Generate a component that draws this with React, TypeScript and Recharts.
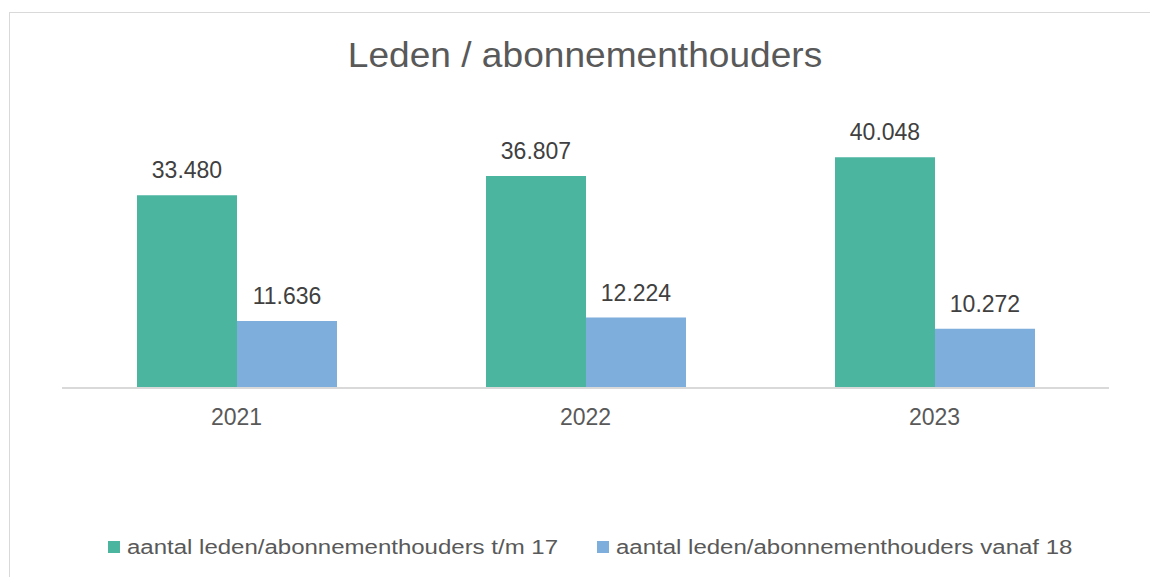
import { Bar, BarChart, LabelList, XAxis, YAxis } from "recharts";

// Leden / abonnementhouders per jaar, split by age group.
const years = ["2021", "2022", "2023"];
const youthMembers = [33480, 36807, 40048]; // t/m 17
const adultMembers = [11636, 12224, 10272]; // vanaf 18
const seriesNames = [
  "aantal leden/abonnementhouders t/m 17",
  "aantal leden/abonnementhouders vanaf 18",
];
const seriesColors = ["#4BB5A0", "#7DAEDC"];

const data = years.map((year, i) => ({
  year,
  youth: youthMembers[i],
  adult: adultMembers[i],
}));

const FONT = "'Liberation Sans', Arial, sans-serif";
// legend entries sit at fixed x offsets, like the Excel original
const legendLeft = [108, 597];

// Dutch thousands separator: 33480 -> "33.480"
const fmt = (v: unknown) =>
  String(v).replace(/\B(?=(\d{3})+(?!\d))/g, ".");

export default function App() {
  return (
    <div
      style={{
        position: "absolute",
        left: 0,
        top: 0,
        width: 1150,
        height: 577,
        overflow: "hidden",
        background: "#ffffff",
        fontFamily: FONT,
      }}
    >
      {/* chart frame, cropped on the right/bottom like the original */}
      <div
        style={{
          position: "absolute",
          left: 9,
          top: 12,
          width: 1160,
          height: 600,
          border: "1px solid #D9D9D9",
          boxSizing: "border-box",
        }}
      />
      <div
        style={{
          position: "absolute",
          left: 0,
          top: 37,
          width: 1170,
          textAlign: "center",
          fontSize: 35,
          lineHeight: "35px",
          color: "#595959",
          transform: "scaleX(1.06)",
          transformOrigin: "585px 0",
        }}
      >
        Leden / abonnementhouders
      </div>
      <BarChart
        width={1150}
        height={577}
        data={data}
        margin={{ top: 100, right: 41, bottom: 149, left: 62 }}
        barGap={0}
        barSize={100}
        style={{ position: "absolute", left: 0, top: 0 }}
      >
        <XAxis
          dataKey="year"
          height={40}
          tickLine={false}
          tickSize={0}
          tickMargin={21}
          axisLine={{ stroke: "#D9D9D9", strokeWidth: 2 }}
          tick={{ fill: "#595959", fontSize: 23, fontFamily: FONT }}
        />
        <YAxis hide domain={[0, 50000]} />
        <Bar dataKey="youth" fill={seriesColors[0]} isAnimationActive={false}>
          <LabelList
            dataKey="youth"
            position="top"
            offset={17}
            formatter={fmt}
            style={{ fill: "#404040", fontSize: 23, fontFamily: FONT }}
          />
        </Bar>
        <Bar dataKey="adult" fill={seriesColors[1]} isAnimationActive={false}>
          <LabelList
            dataKey="adult"
            position="top"
            offset={17}
            formatter={fmt}
            style={{ fill: "#404040", fontSize: 23, fontFamily: FONT }}
          />
        </Bar>
      </BarChart>
      {seriesNames.map((name, i) => (
        <div
          key={name}
          style={{
            position: "absolute",
            left: legendLeft[i],
            top: 537,
            display: "flex",
            alignItems: "center",
            fontSize: 20,
            lineHeight: "20px",
            color: "#595959",
            whiteSpace: "nowrap",
          }}
        >
          <span
            style={{
              display: "inline-block",
              width: 12,
              height: 12,
              marginRight: 7,
              background: seriesColors[i],
            }}
          />
          <span
            style={{
              display: "inline-block",
              transform: "scaleX(1.2)",
              transformOrigin: "0 0",
            }}
          >
            {name}
          </span>
        </div>
      ))}
    </div>
  );
}
